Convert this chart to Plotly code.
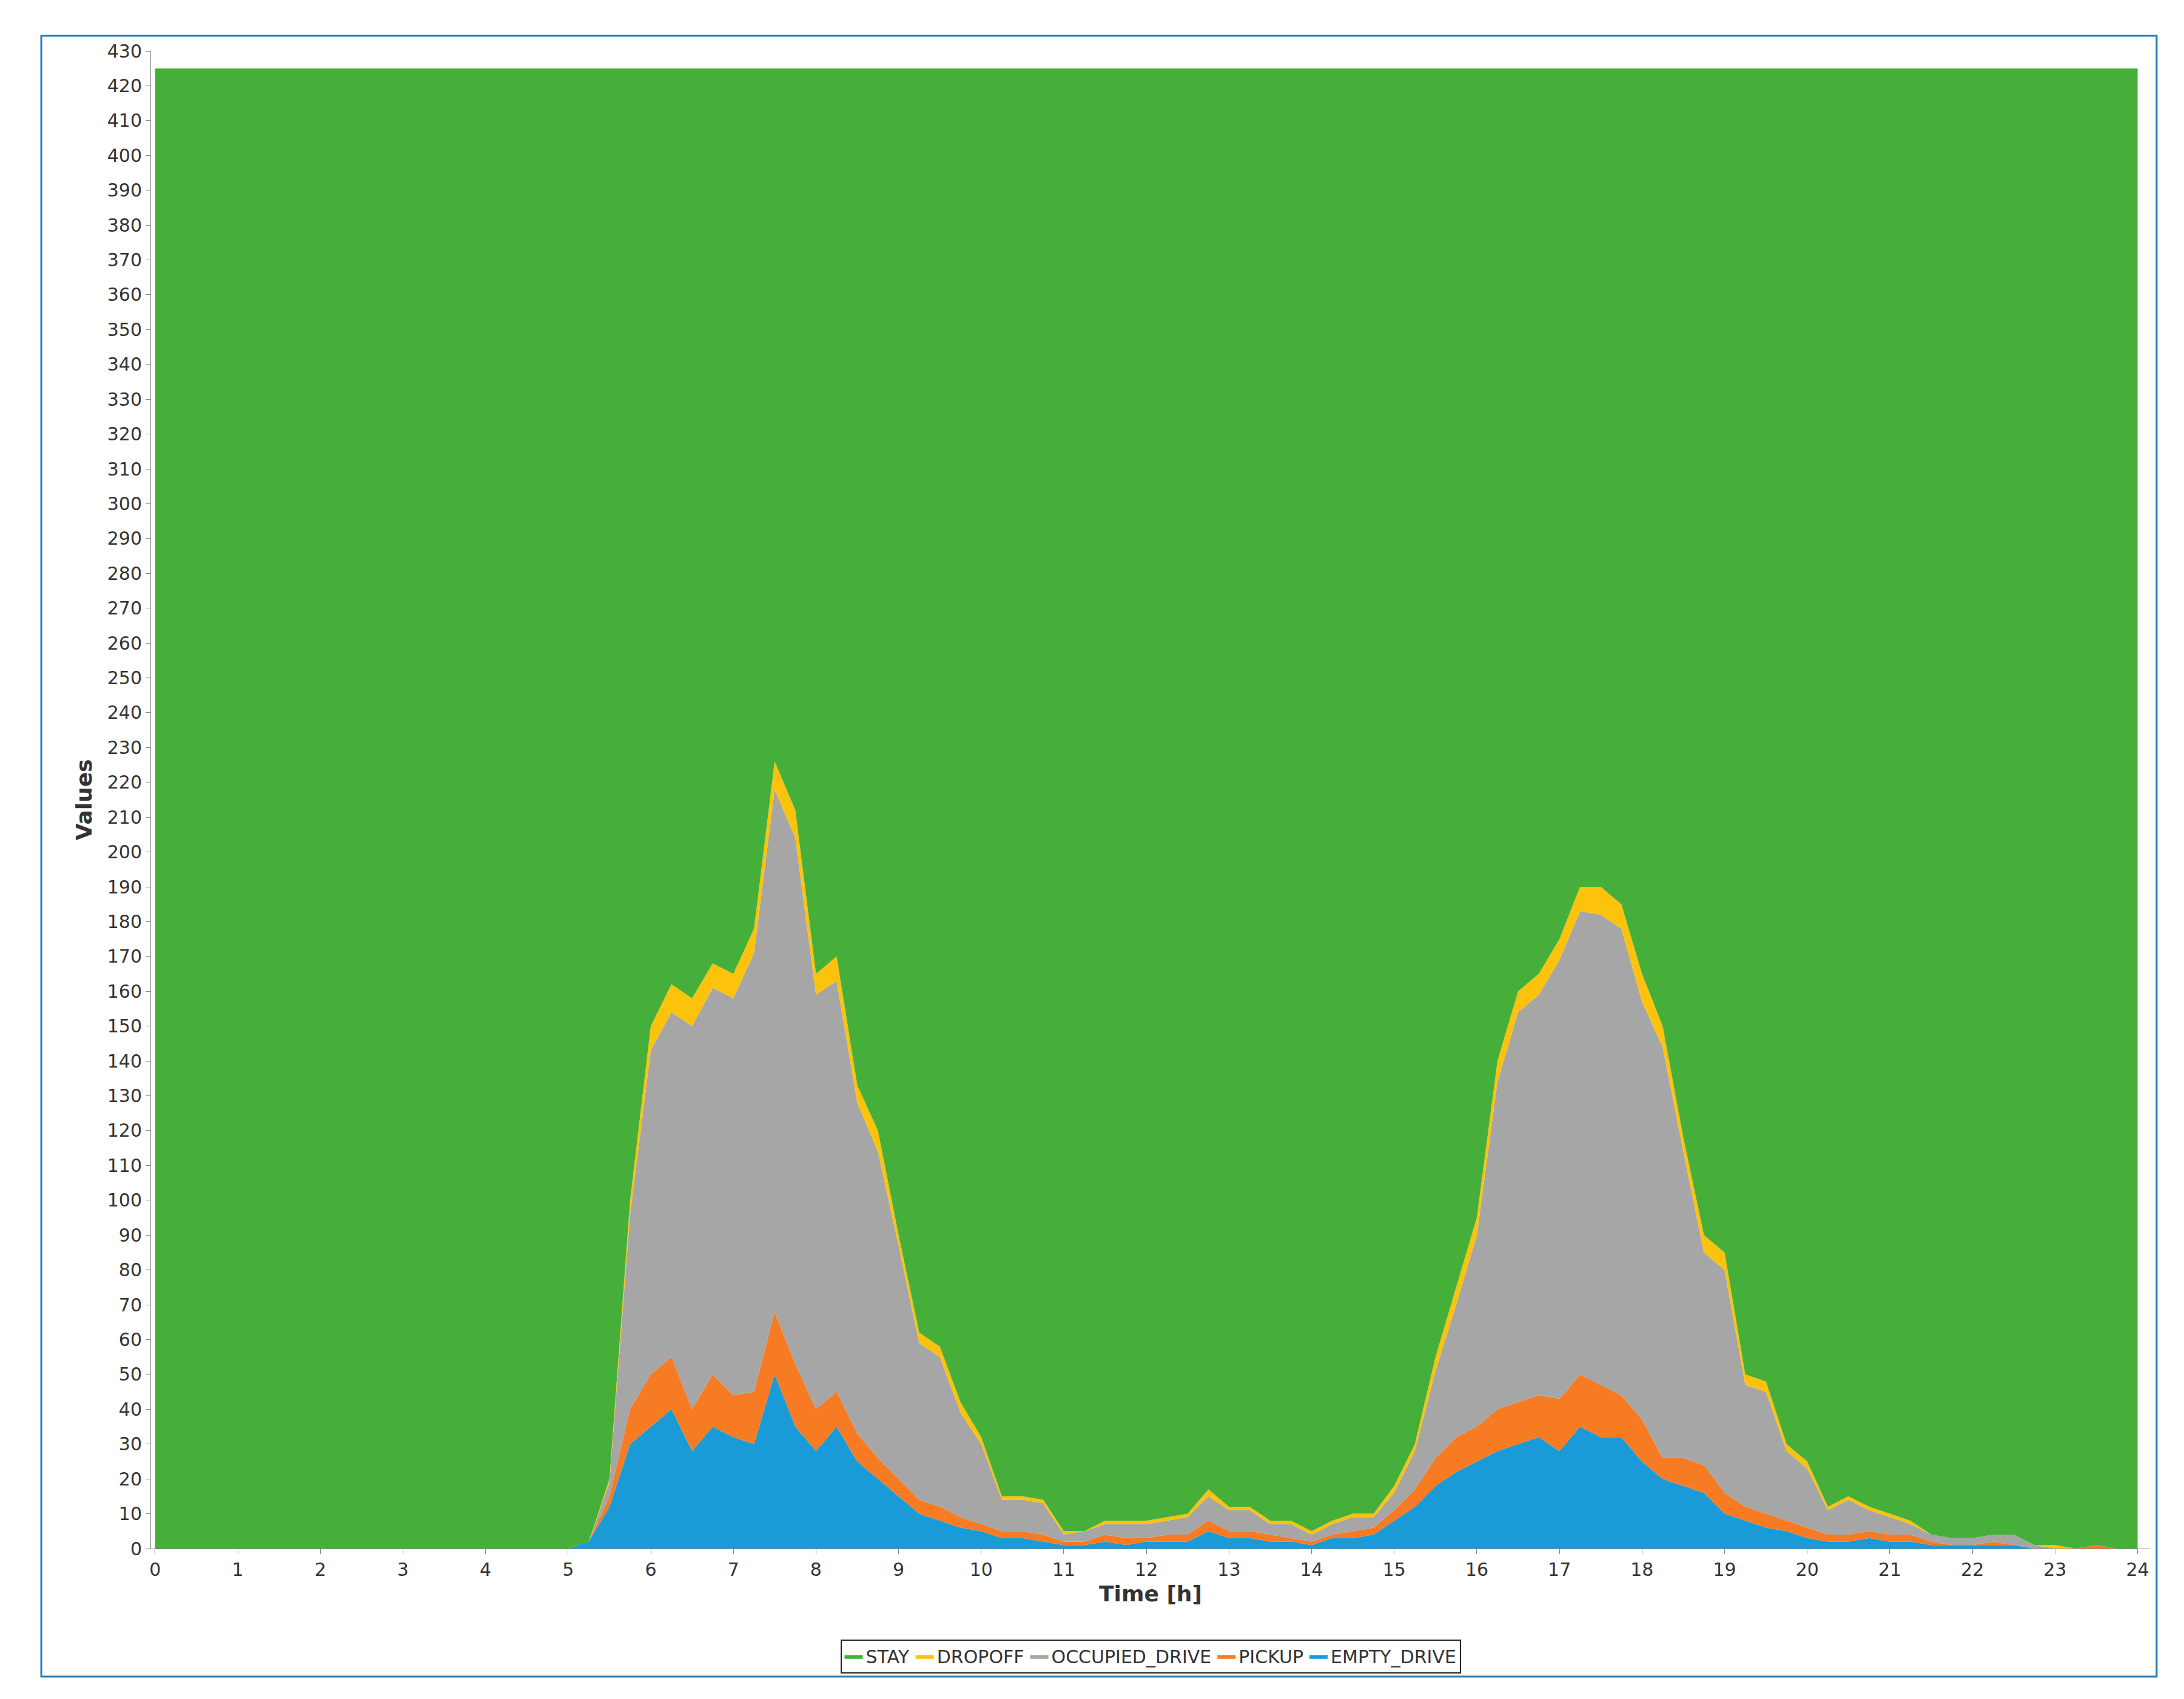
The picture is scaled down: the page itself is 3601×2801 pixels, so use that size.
import plotly.graph_objects as go

times = [i * 0.25 for i in range(97)]
zeros = [0] * 20  # 0:00 - 4:45

empty = zeros + [0,2,12,30, 35,40,28,35, 32,30,50,35, 28,35,25,20, 15,10,8,6, 5,3,3,2, 1,1,2,1,
                 2,2,2,5, 3,3,2,2, 1,3,3,4, 8,12,18,22, 25,28,30,32, 28,35,32,32, 25,20,18,16,
                 10,8,6,5, 3,2,2,3, 2,2,1,1, 1,1,1,0, 0,0,0,0, 0]
pickup = zeros + [0,0,3,10, 15,15,12,15, 12,15,18,18, 12,10,8,6, 5,4,4,3, 2,2,2,2, 1,1,2,2,
                  1,2,2,3, 2,2,2,1, 1,1,2,2, 3,5,8,10, 10,12,12,12, 15,15,15,12, 12,6,8,8,
                  6,4,4,3, 3,2,2,2, 2,2,1,0, 0,1,0,0, 0,0,1,0, 0]
occupied = zeros + [0,0,4,56, 93,99,110,111, 114,126,150,151, 119,118,95,88, 67,45,43,30, 23,9,9,9,
                    2,3,3,4, 4,4,5,7, 6,6,3,4, 2,3,4,3, 5,11,25,38, 55,94,112,115, 126,133,135,134,
                    120,118,88,61, 64,35,35,20, 17,7,10,6, 5,3,2,2, 2,2,3,1, 0,0,0,0, 0]
dropoff = zeros + [0,0,1,4, 7,8,8,7, 7,7,8,8, 6,7,5,6, 3,3,3,3, 2,1,1,1, 1,0,1,1, 1,1,1,2,
                   1,1,1,1, 1,1,1,1, 2,2,4,5, 5,6,6,6, 6,7,8,7, 8,6,4,5, 5,3,3,2, 2,1,1,1,
                   1,1,0,0, 0,0,0,0, 1,0,0,0, 0]
fleet = 425
stay = [fleet - (a + b + c + d) for a, b, c, d in zip(empty, pickup, occupied, dropoff)]

series = [("EMPTY_DRIVE", empty, "#1a9bd7"), ("PICKUP", pickup, "#f77b22"),
          ("OCCUPIED_DRIVE", occupied, "#a6a6a6"), ("DROPOFF", dropoff, "#fdc20c"),
          ("STAY", stay, "#46af3a")]

fig = go.Figure()
for name, vals, col in series:
    fig.add_trace(go.Scatter(x=times, y=vals, name=name, mode="lines", stackgroup="one",
                             line=dict(width=0, color=col), fillcolor=col))

fig.update_layout(
    width=3601, height=2801, paper_bgcolor="white", plot_bgcolor="white",
    margin=dict(l=241, r=64, t=76, b=256),
    font=dict(family="DejaVu Sans", size=30, color="#333"),
    xaxis=dict(range=[-0.05, 24.15], tickmode="linear", tick0=0, dtick=1, showgrid=False,
               zeroline=False, showline=True, linecolor="#888", ticks="outside", ticklen=8,
               tickcolor="#888", title=dict(text="<b>Time [h]</b>", font=dict(size=36), standoff=10)),
    yaxis=dict(range=[0, 430], tickmode="linear", tick0=0, dtick=10, showgrid=False,
               zeroline=False, showline=True, linecolor="#888", ticks="outside", ticklen=8,
               tickcolor="#888", title=dict(text="<b>Values</b>", font=dict(size=36), standoff=14)),
    legend=dict(orientation="h", x=0.5, xanchor="center", y=-0.072, yanchor="middle",
                bordercolor="#222", borderwidth=2, font=dict(size=30), itemwidth=30),
    showlegend=True,
    shapes=[dict(type="rect", xref="paper", yref="paper", x0=-0.0549, x1=1.0033,
                 y0=-0.0855, y1=1.0101, line=dict(color="#2a7ab8", width=3))],
)
fig.write_html("out.html")
